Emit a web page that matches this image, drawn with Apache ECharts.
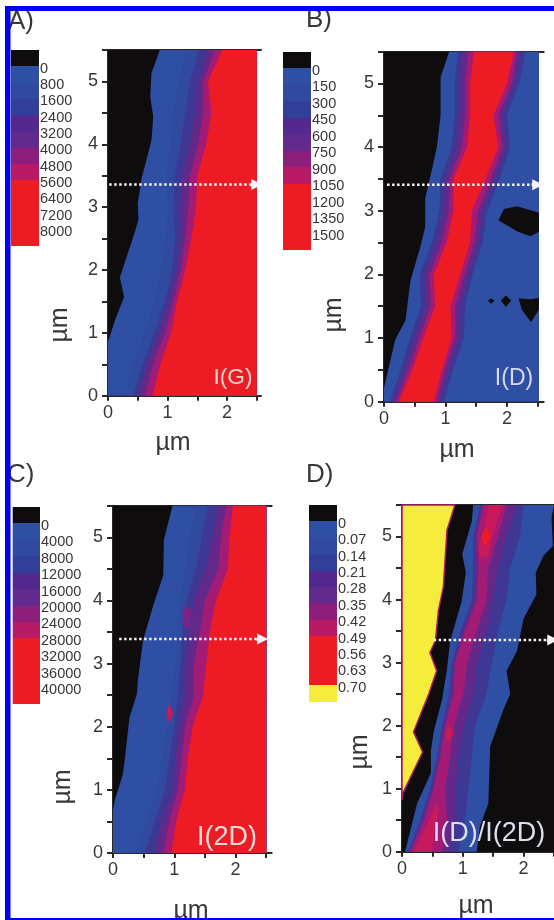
<!DOCTYPE html>
<html><head><meta charset="utf-8">
<style>html,body{margin:0;padding:0;background:#fff}#c{width:554px;height:920px;filter:blur(0.5px)}</style>
<script src="https://cdn.jsdelivr.net/npm/echarts@6/dist/echarts.min.js"></script>
</head><body><div id="c"></div>
<script>
// ---------- data (µm) ----------
const rowYs = [0,.5,1,1.5,2,2.5,3,3.5,4,4.5,5,5.5];
const ticksA = ["0","800","1600","2400","3200","4000","4800","5600","6400","7200","8000"];
const ticksB = ["0","150","300","450","600","750","900","1050","1200","1350","1500"];
const ticksC = ["0","4000","8000","12000","16000","20000","24000","28000","32000","36000","40000"];
const ticksD = ["0","0.07","0.14","0.21","0.28","0.35","0.42","0.49","0.56","0.63","0.70"];

// Panel A contours
const aBlackEdge = [[.87,5.5],[.73,5.13],[.71,4.76],[.76,4.44],[.73,4.06],[.57,3.48],[.50,3.06],[.51,2.8],[.45,2.6],[.2,1.88],[.27,1.57],[.12,1.21],[.015,.9],[0,.87],[0,0]];
const aBlue2  = [.30,.42,.62,.78,.88,.98,1.00,.98,1.05,1.10,1.20,1.30];
const aIndigo = [.42,.58,.78,.95,1.08,1.13,1.10,1.12,1.22,1.30,1.38,1.52];
const aPurple = [.52,.66,.86,1.02,1.16,1.22,1.22,1.25,1.38,1.47,1.52,1.68];
const aMagenta= [.62,.76,.96,1.10,1.22,1.30,1.35,1.38,1.52,1.60,1.60,1.80];
const aRed    = [.75,.88,1.06,1.16,1.30,1.40,1.48,1.50,1.65,1.74,1.68,1.92];

// Panel B contours
const bBlackEdge = [[1.06,5.5],[.92,5.1],[.92,4.5],[.86,4],[.78,3.65],[.67,3.2],[.67,2.75],[.59,2.43],[.43,1.9],[.35,1.28],[.18,.97],[.08,.55],[.005,.24],[0,.2],[0,0]];
const bIndigoL = [.10,.27,.42,.60,.58,.78,.90,.92,1.10,1.15,1.15,1.20];
const bPurpleL = [.15,.33,.50,.68,.66,.86,.98,1.00,1.18,1.24,1.24,1.28];
const bMagentaL= [.20,.40,.57,.76,.74,.94,1.06,1.07,1.27,1.32,1.32,1.37];
const bRedL    = [.24,.46,.64,.83,.81,1.02,1.13,1.13,1.35,1.40,1.40,1.46];
const bRedR    = [.81,.94,1.10,1.08,1.24,1.40,1.43,1.65,1.86,1.78,2.00,2.11];
const bMagentaR= [.86,.99,1.16,1.16,1.31,1.47,1.53,1.74,1.93,1.86,2.07,2.16];
const bPurpleR = [.91,1.05,1.22,1.24,1.37,1.53,1.60,1.80,1.98,1.92,2.12,2.22];
const bIndigoR = [.97,1.12,1.30,1.32,1.44,1.60,1.68,1.88,2.05,2.00,2.20,2.30];
const bIslands = [
  [[1.95,3.03],[2.16,3.07],[2.52,2.97],[2.52,2.67],[2.38,2.6],[2.16,2.68],[1.86,2.85]],
  [[2.19,1.62],[2.38,1.61],[2.52,1.63],[2.52,1.45],[2.39,1.25],[2.24,1.45]],
  [[1.90,1.59],[1.98,1.67],[2.07,1.59],[1.98,1.49]],
  [[1.69,1.59],[1.74,1.62],[1.80,1.59],[1.74,1.54]]
];

// Panel C contours
const cBlackEdge = [[.97,5.5],[.83,4.96],[.82,4.4],[.65,3.9],[.49,3.37],[.41,2.77],[.39,2.52],[.27,2.15],[.19,1.47],[.16,1.24],[.03,.84],[0,.68],[0,0]];
const cBlue2  = [.38,.55,.72,.80,.88,.95,1.02,1.05,1.10,1.18,1.25,1.35];
const cIndigo = [.52,.68,.85,.92,1.00,1.06,1.10,1.13,1.20,1.35,1.45,1.55];
const cPurple = [.68,.80,.98,1.02,1.08,1.18,1.20,1.25,1.32,1.52,1.62,1.72];
const cMagenta= [.82,.92,1.06,1.12,1.18,1.32,1.32,1.42,1.50,1.72,1.76,1.85];
const cRed    = [.95,1.03,1.17,1.22,1.30,1.47,1.52,1.58,1.68,1.875,1.9,1.96];
const cSpotRed = [[.92,2.38],[.98,2.2],[.92,2.05],[.87,2.2]];
const cSpotMagenta = [[1.14,3.9],[1.28,3.85],[1.24,3.55],[1.14,3.6]];

// Panel D contours
const dYellowEdge = [[.87,5.5],[.74,5.1],[.68,4.2],[.60,3.83],[.55,3.35],[.46,3.16],[.57,2.87],[.44,2.5],[.19,1.9],[.34,1.58],[.016,.93],[0,.82]];
const dBlueL = [[1.17,5.5],[1.15,5.25],[.99,4.72],[1.05,4.43],[.98,3.97],[.79,3.33],[.74,2.9],[.66,2.42],[.52,1.9],[.475,1.6],[.475,1.25],[.25,.77],[.14,.35],[.05,0]];
const dBlueR = [[2.5,5.5],[2.46,5.3],[2.48,4.85],[2.33,4.7],[2.2,4.43],[2.21,4.08],[2.0,3.7],[1.89,3.18],[1.72,2.87],[1.78,2.5],[1.67,2.26],[1.45,1.67],[1.42,.77],[1.28,.39],[1.23,0]];
const dIndigoL = [.10,.30,.46,.57,.66,.77,.82,.96,1.15,1.17,1.17,1.28];
const dPurpleL = [.12,.33,.49,.60,.68,.81,.85,1.00,1.19,1.21,1.20,1.31];
const dMagentaL= [.14,.36,.52,.63,.71,.85,.87,1.04,1.23,1.26,1.23,1.34];
const dMagentaR= [.66,.74,.71,.79,.85,1.01,1.07,1.23,1.39,1.42,1.58,1.72];
const dPurpleR = [.77,.87,.87,.93,1.01,1.17,1.23,1.39,1.50,1.58,1.72,1.89];
const dIndigoR = [.93,1.04,1.09,1.15,1.20,1.39,1.48,1.58,1.72,1.78,1.94,2.0];
const dCrimsonTop = [[1.42,5.5],[1.64,5.5],[1.48,4.95],[1.42,4.7],[1.30,4.65],[1.25,4.8],[1.33,5.05]];
const dCrimsonBottom = [[.19,0],[.49,0],[.55,.4],[.62,.65],[.55,.75],[.40,.4]];
const dSpotTop = [[1.38,5.15],[1.46,5.0],[1.36,4.85],[1.30,5.0]];
const dSpotMid = [[.77,2.0],[.85,1.88],[.77,1.75],[.7,1.88]];

// ---------- colours ----------
const BLACK="#0f0c0d",BLUE="#2e4fa3",BLUE2="#2f4a9f",INDIGO="#3f3794",PURPLE="#642889",SOFTMAGENTA="#7f2182",MAGENTA="#a31b74",CRIMSON="#c8195a",RED="#ed1c24",YELLOW="#f6ec3c";
const legendRed=[BLACK,BLUE,BLUE2,"#323f99","#53298f","#622a8c","#8d1f7c","#b81a66",RED,RED,RED,RED];
const legendYellow=[BLACK,BLUE,BLUE2,"#323f99","#53298f","#622a8c","#8d1f7c","#b81a66",RED,RED,RED,YELLOW];

// ---------- helpers ----------
const row = xs => xs.map((x,i)=>[x,rowYs[i]]);
const rightOf = (pts,xmax)=>{const a=pts[0],b=pts[pts.length-1];return pts.concat([[xmax,b[1]],[xmax,a[1]]]);};
const between = (l,r)=>l.concat(r.slice().reverse());
const P=(color,points,stroke)=>({color,points,stroke});
const base=(xmax)=>[[0,0],[xmax,0],[xmax,5.5],[0,5.5]];

const polysA=[P(BLACK,base(2.5)),P(BLUE,rightOf(aBlackEdge,2.5)),P(BLUE2,rightOf(row(aBlue2),2.5)),P(INDIGO,rightOf(row(aIndigo),2.5)),P(PURPLE,rightOf(row(aPurple),2.5)),P(MAGENTA,rightOf(row(aMagenta),2.5)),P(RED,rightOf(row(aRed),2.5))];
const polysB=[P(BLACK,base(2.52)),P(BLUE,rightOf(bBlackEdge,2.52)),
  P(INDIGO,between(row(bIndigoL),row(bIndigoR))),P(PURPLE,between(row(bPurpleL),row(bPurpleR))),P(MAGENTA,between(row(bMagentaL),row(bMagentaR))),P(RED,between(row(bRedL),row(bRedR)))]
  .concat(bIslands.map(p=>P(BLACK,p)));
const polysC=[P(BLACK,base(2.5)),P(BLUE,rightOf(cBlackEdge,2.5)),P(BLUE2,rightOf(row(cBlue2),2.5)),P(INDIGO,rightOf(row(cIndigo),2.5)),P(PURPLE,rightOf(row(cPurple),2.5)),P(MAGENTA,rightOf(row(cMagenta),2.5)),P(RED,rightOf(row(cRed),2.5)),P(SOFTMAGENTA,cSpotMagenta),P(CRIMSON,cSpotRed)];
const polysD=[P(BLACK,base(2.5)),P(YELLOW,dYellowEdge.concat([[0,5.5]]),"#a81b72"),P(BLUE,between(dBlueL,dBlueR)),
  P(INDIGO,between(row(dIndigoL),row(dIndigoR))),P(PURPLE,between(row(dPurpleL),row(dPurpleR))),P(MAGENTA,between(row(dMagentaL),row(dMagentaR))),
  P(CRIMSON,dCrimsonTop),P(CRIMSON,dCrimsonBottom),P(RED,dSpotTop),P(CRIMSON,dSpotMid)];

// ---------- layout ----------
const panels=[
 {polys:polysA,left:108,top:50,bottom:395.7,xEnd:261,xMax:2.571,arrow:[.02,2.5,3.36]},
 {polys:polysB,left:384,top:51.7,bottom:401.7,xEnd:543.7,xMax:2.597,arrow:[.05,2.5,3.41]},
 {polys:polysC,left:113,top:505.7,bottom:853,xEnd:271.7,xMax:2.589,arrow:[.1,2.44,3.39]},
 {polys:polysD,left:402,top:505,bottom:851.7,xEnd:554.5,xMax:2.5,arrow:[.52,2.48,3.36]}
];
const legends=[
 {ticks:ticksA,colors:legendRed,left:11,right:39,top:50,bottom:245.7},
 {ticks:ticksB,colors:legendRed,left:283,right:311,top:51.7,bottom:250},
 {ticks:ticksC,colors:legendRed,left:12.7,right:40,top:507,bottom:704},
 {ticks:ticksD,colors:legendYellow,left:309,right:337,top:505,bottom:701.7}
];
const AX="#2b2727",FONT='"Liberation Sans"',TXT="#3a3636";
const grid=[],xAxis=[],yAxis=[],series=[];
panels.forEach((p,i)=>{
  grid.push({left:p.left,top:p.top,width:p.xEnd-p.left,height:p.bottom-p.top});
  xAxis.push({gridIndex:i,type:'value',min:0,max:p.xMax,position:'bottom',splitLine:{show:false},
    axisLine:{show:true,onZero:false,lineStyle:{color:AX,width:2}},
    axisTick:{show:true,length:5,inside:false,customValues:[0,.5,1,1.5,2,2.5],lineStyle:{color:AX,width:2}},
    axisLabel:{customValues:[0,1,2],margin:8,fontSize:18,fontFamily:FONT,color:TXT,formatter:v=>String(v)}});
  yAxis.push({gridIndex:i,type:'value',min:0,max:5.5,position:'left',splitLine:{show:false},
    axisLine:{show:true,onZero:false,lineStyle:{color:AX,width:2}},
    axisTick:{show:true,length:6,customValues:rowYs,lineStyle:{color:AX,width:2}},
    axisLabel:{customValues:[0,1,2,3,4,5],margin:10,fontSize:18,fontFamily:FONT,color:TXT,formatter:v=>String(v)}});
  series.push({type:'custom',coordinateSystem:'cartesian2d',xAxisIndex:i,yAxisIndex:i,silent:true,z:1,
    data:p.polys.map((_,k)=>[k]),
    renderItem:(params,api)=>{const q=p.polys[params.dataIndex];
      return {type:'polygon',shape:{points:q.points.map(c=>api.coord(c))},
        style:{fill:q.color,stroke:q.stroke||null,lineWidth:q.stroke?1.5:0}};}});
  series.push({type:'line',xAxisIndex:i,yAxisIndex:i,silent:true,z:5,symbol:'none',
    data:[[p.arrow[0],p.arrow[2]],[p.arrow[1],p.arrow[2]]],
    lineStyle:{color:'#f8f4fc',width:2.5,type:[2.5,2.5]},
    markLine:{silent:true,animation:false,symbol:['none','triangle'],symbolSize:[11,11],label:{show:false},
      lineStyle:{color:'#f8f4fc',width:2.5,type:[2.5,2.5]},
      data:[[{coord:[p.arrow[1]-.1,p.arrow[2]]},{coord:[p.arrow[1],p.arrow[2]]}]]}});
});
// top frame lines
panels.forEach((p,i)=>{
  xAxis.push({gridIndex:i,type:'value',min:0,max:1,position:'top',splitLine:{show:false},
    axisLine:{show:true,onZero:false,lineStyle:{color:AX,width:2}},axisTick:{show:false},axisLabel:{show:false}});
});
// colour legends: labels sit just below each cell boundary, as in the picture
const LABEL_DROP=.15;
legends.forEach((l,i)=>{
  const g=grid.length;
  grid.push({left:l.left,top:l.top,width:l.right-l.left,height:l.bottom-l.top});
  xAxis.push({gridIndex:g,type:'value',min:0,max:1,show:false});
  yAxis.push({gridIndex:g,type:'value',inverse:true,min:0,max:12,interval:1,position:'right',splitLine:{show:false},
    axisLine:{show:false},axisTick:{show:false},
    axisLabel:{margin:1,fontSize:14.5,fontFamily:FONT,color:TXT,lineHeight:14,hideOverlap:false,
      customValues:l.ticks.map((_,k)=>k+1+LABEL_DROP),
      formatter:v=>l.ticks[Math.round(v-LABEL_DROP)-1]}});
  series.push({type:'custom',coordinateSystem:'cartesian2d',xAxisIndex:xAxis.length-1,yAxisIndex:yAxis.length-1,silent:true,
    data:l.colors.map((_,k)=>[k]),
    renderItem:(params,api)=>{const k=params.dataIndex;const a=api.coord([0,k]),b=api.coord([1,k+1]);
      const y0=Math.round(a[1]),y1=Math.round(b[1]);
      return {type:'rect',shape:{x:a[0],y:y0,width:b[0]-a[0],height:y1-y0},style:{fill:l.colors[k]}};}});
});
const T=(text,x,y,size,fill,rot,align)=>({type:'text',x,y,rotation:rot||0,z:50,silent:true,
  style:{text,fill,font:size+'px '+FONT,align:align||'center',verticalAlign:'middle'}});
const B=(x,y,w,h)=>({type:'rect',z:100,silent:true,shape:{x,y,width:w,height:h},style:{fill:'#0000f0'}});
const graphic={elements:[
  T('A)',8,22,26,TXT,0,'left'),T('B)',306,20,26,TXT,0,'left'),T('C)',7,475,26,TXT,0,'left'),T('D)',306,475,26,TXT,0,'left'),
  T('µm',173,443,25,TXT),T('µm',457,450,25,TXT),T('µm',191,911,25,TXT),T('µm',476,906,25,TXT),
  T('µm',60,325,25,TXT,Math.PI/2),T('µm',334,315,25,TXT,Math.PI/2),T('µm',63,787,25,TXT,Math.PI/2),T('µm',360,752,25,TXT,Math.PI/2),
  T('I(G)',233,378,22.6,'#f6d4cc'),T('I(D)',514,379,23,'#d6dbf0'),T('I(2D)',227,838,27,'#f7dcd5'),T('I(D)/I(2D)',489,834,27,'#dedeee'),
  B(5,6,5.5,914),B(5,6,549,5),B(5,918,549,2)
]};
const chart=echarts.init(document.getElementById('c'),null,{renderer:'canvas',width:554,height:920});
chart.setOption({animation:false,backgroundColor:'#fff',grid,xAxis,yAxis,series,graphic});
</script></body></html>
